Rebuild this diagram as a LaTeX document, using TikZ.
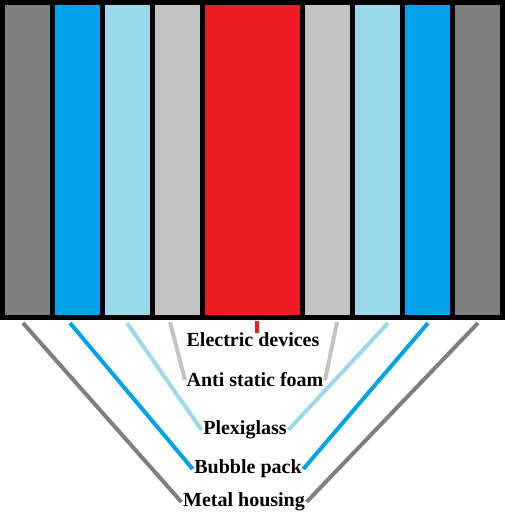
\documentclass[tikz,border=0pt]{standalone}
\usepackage{fontspec}
\setmainfont{Liberation Serif}
\usetikzlibrary{positioning}

\definecolor{housing}{RGB}{127,127,127}
\definecolor{bubble}{RGB}{0,162,232}
\definecolor{plexi}{RGB}{153,217,234}
\definecolor{foam}{RGB}{195,195,195}
\definecolor{device}{RGB}{237,28,36}

\begin{document}
\begin{tikzpicture}[
	x=1pt, y=-1pt,
	strip/.style={minimum width=45pt, minimum height=310pt, inner sep=0pt, outer sep=0pt},
	layertext/.style={font=\fontsize{20}{22}\selectfont\bfseries, inner sep=1.5pt},
	lead/.style={line width=4pt}
]
%/*
\useasboundingbox (0,0) rectangle (505,514);
\fill[black] (0,0) rectangle (505,320);

% layers, outside in
\foreach \x/\c/\n in {27.5/housing/hl, 77.5/bubble/bl, 127.5/plexi/pl, 177.5/foam/fl,
	327.5/foam/fr, 377.5/plexi/pr, 427.5/bubble/br, 477.5/housing/hr}
	\node[strip, fill=\c] (\n) at (\x,160) {};
\node[strip, fill=device, minimum width=95pt] (dev) at (252.5,160) {};

\node[layertext] (devices) at (253,340) {Electric devices};
\node[layertext] (foamtxt) at (255,380) {Anti static foam};
\node[layertext] (plexitxt) at (245,430) {Plexiglass};
\node[layertext] (bubbletxt) at (248,469) {Bubble pack};
\node[layertext] (metal) at (244,502) {Metal housing};

\coordinate (hls) at (23,323);
\coordinate (bls) at (70,323);
\coordinate (pls) at (127,323);
\coordinate (fls) at (170,322);
\coordinate (devs) at (257,321);
\coordinate (deve) at (257,333);
\coordinate (frs) at (337,322);
\coordinate (prs) at (388,323);
\coordinate (brs) at (428,323);
\coordinate (hrs) at (478,323);

\draw[lead, device] (devs) -- (deve);
\draw[lead, foam] (fls) -- (foamtxt.west);
\draw[lead, foam] (frs) -- (foamtxt.east);
\draw[lead, plexi] (pls) -- (plexitxt.west);
\draw[lead, plexi] (prs) -- (plexitxt.east);
\draw[lead, bubble] (bls) -- (bubbletxt.west);
\draw[lead, bubble] (brs) -- (bubbletxt.east);
\draw[lead, housing] (hls) -- (metal.west);
\draw[lead, housing] (hrs) -- (metal.east);
%*/
\end{tikzpicture}
\end{document}
